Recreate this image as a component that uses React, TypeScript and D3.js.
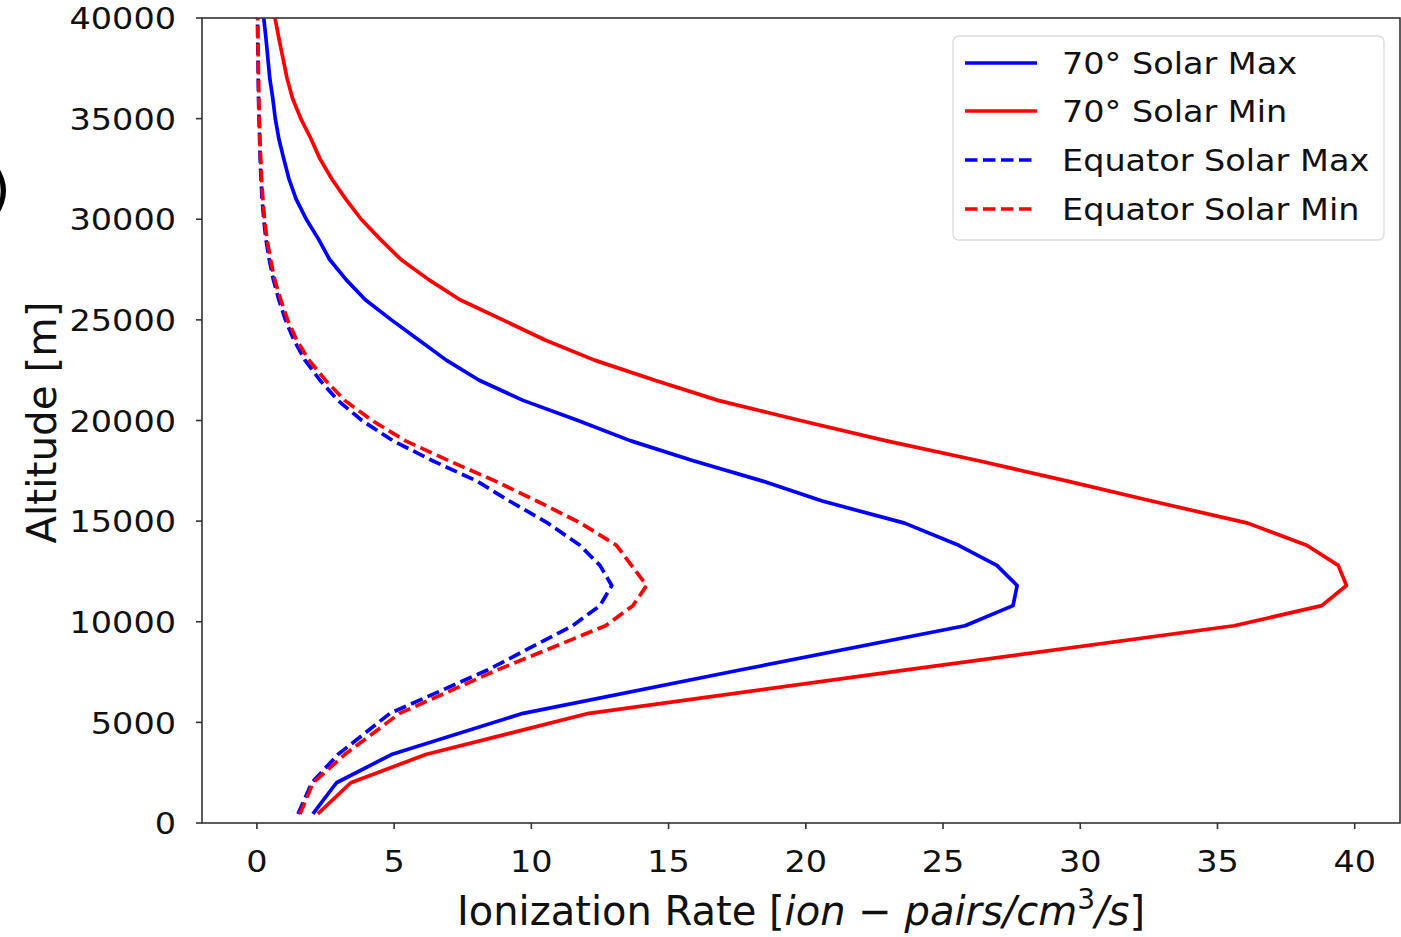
import React from "react";
import * as d3 from "d3";

const altitudes = [450, 2000, 3400, 5450, 7600, 9800, 10800, 11800, 12800, 13800, 14900, 16000, 17000, 18000, 19000, 20000, 21000, 22000, 23000, 24000, 25000, 26000, 27000, 28000, 29000, 30000, 31000, 32000, 33000, 34000, 35000, 36000, 37000, 38000, 39000, 40000];

const polarSolarMax = [2.04, 2.9, 4.9, 9.7, 17.6, 25.8, 27.55, 27.7, 26.96, 25.57, 23.6, 20.6, 18.4, 15.9, 13.6, 11.7, 9.7, 8.1, 6.9, 5.9, 4.9, 3.95, 3.25, 2.65, 2.25, 1.8, 1.43, 1.17, 0.98, 0.8, 0.67, 0.58, 0.47, 0.4, 0.33, 0.25];
const polarSolarMin = [2.22, 3.42, 6.15, 12.1, 23.6, 35.6, 38.8, 39.7, 39.4, 38.25, 36.1, 32.6, 29.5, 26.3, 22.9, 19.8, 16.8, 14.5, 12.3, 10.5, 8.96, 7.4, 6.26, 5.25, 4.5, 3.8, 3.24, 2.73, 2.3, 1.97, 1.6, 1.3, 1.1, 0.95, 0.8, 0.66];
const equatorSolarMax = [1.5, 2.0, 2.95, 4.85, 8.4, 11.5, 12.5, 12.93, 12.5, 11.77, 10.6, 9.2, 8.0, 6.4, 4.95, 3.83, 2.95, 2.3, 1.75, 1.35, 1.04, 0.8, 0.6, 0.45, 0.33, 0.25, 0.19, 0.15, 0.12, 0.1, 0.08, 0.06, 0.05, 0.04, 0.03, 0.02];
const equatorSolarMin = [1.57, 2.05, 3.2, 5.2, 8.75, 12.7, 13.7, 14.2, 13.65, 13.1, 11.8, 10.2, 8.67, 7.0, 5.4, 4.2, 3.2, 2.5, 1.9, 1.45, 1.12, 0.87, 0.65, 0.5, 0.37, 0.28, 0.22, 0.17, 0.14, 0.11, 0.09, 0.07, 0.06, 0.05, 0.04, 0.03];

const xTicks = [0, 5, 10, 15, 20, 25, 30, 35, 40];
const yTicks = [0, 5000, 10000, 15000, 20000, 25000, 30000, 35000, 40000];

const seriesNames = ["70° Solar Max", "70° Solar Min", "Equator Solar Max", "Equator Solar Min"];
const seriesColors = ["#0000ff", "#ff0000", "#0000ff", "#ff0000"];
const seriesDashed = [false, false, true, true];
const seriesValues = [polarSolarMax, polarSolarMin, equatorSolarMax, equatorSolarMin];

const W = 1401;
const H = 937;
const M = { left: 202, right: 1400, top: 18, bottom: 823 };
const FONT = "'DejaVu Sans', sans-serif";

export default function App() {
  const x = d3.scaleLinear().domain([-2.0, 41.65]).range([M.left, M.right]);
  const y = d3.scaleLinear().domain([0, 40000]).range([M.bottom, M.top]);
  const line = d3
    .line<[number, number]>()
    .x((d) => x(d[0]))
    .y((d) => y(d[1]));

  const lw = 3.7;
  const dash = "12.5,5.5";
  const tickFont = 31;
  const sx = 1.08;
  const labelFont = 40;
  const legendRows = [63, 111, 160, 209];

  return (
    <svg width={W} height={H} style={{ position: "absolute", left: 0, top: 0, background: "#fff" }} fontFamily={FONT}>
      <rect x={0} y={0} width={W} height={H} fill="#fff" />
      <text x={-11} y={208} fontSize={56} fill="#000">)</text>
      <defs>
        <clipPath id="plotclip">
          <rect x={M.left} y={M.top} width={M.right - M.left} height={M.bottom - M.top} />
        </clipPath>
      </defs>
      <g clipPath="url(#plotclip)">
        {seriesValues.map((vals, i) => (
          <path
            key={i}
            d={line(vals.map((v, j) => [v, altitudes[j]] as [number, number])) || ""}
            fill="none"
            stroke={seriesColors[i]}
            strokeWidth={lw}
            strokeDasharray={seriesDashed[i] ? dash : undefined}
            strokeLinejoin="round"
          />
        ))}
      </g>
      <rect x={M.left} y={M.top} width={M.right - M.left} height={M.bottom - M.top} fill="none" stroke="#333" strokeWidth={1.6} />
      {xTicks.map((t) => (
        <g key={"x" + t}>
          <line x1={x(t)} x2={x(t)} y1={M.bottom} y2={M.bottom + 6} stroke="#333" strokeWidth={1.6} />
          <text transform={`translate(${x(t)},872) scale(${sx},1)`} fontSize={tickFont} textAnchor="middle" fill="#111">{t}</text>
        </g>
      ))}
      {yTicks.map((t) => (
        <g key={"y" + t}>
          <line x1={M.left - 6} x2={M.left} y1={y(t)} y2={y(t)} stroke="#333" strokeWidth={1.6} />
          <text transform={`translate(176,${y(t)}) scale(${sx},1)`} dy="0.36em" fontSize={tickFont} textAnchor="end" fill="#111">{t}</text>
        </g>
      ))}
      <text x={801} y={925} fontSize={labelFont} textAnchor="middle" fill="#111">
        Ionization Rate [<tspan fontStyle="italic">ion</tspan> − <tspan fontStyle="italic">pairs/cm</tspan>
        <tspan fontSize={labelFont * 0.7} dy={-16}>3</tspan>
        <tspan fontStyle="italic" dy={16}>/s</tspan>]
      </text>
      <text transform={`translate(56,${(M.top + M.bottom) / 2 + 2}) rotate(-90)`} fontSize={40.5} textAnchor="middle" fill="#111">
        Altitude [m]
      </text>
      <rect x={953} y={36} width={431} height={204} rx={6} ry={6} fill="#fff" fillOpacity={0.8} stroke="#dcdcdc" strokeWidth={1.3} />
      {seriesNames.map((name, i) => (
        <g key={name}>
          <line x1={965} x2={1037} y1={legendRows[i]} y2={legendRows[i]} stroke={seriesColors[i]} strokeWidth={lw} strokeDasharray={seriesDashed[i] ? dash : undefined} />
          <text transform={`translate(1062,${legendRows[i]}) scale(${sx},1)`} dy="0.36em" fontSize={tickFont} fill="#111">{name}</text>
        </g>
      ))}
    </svg>
  );
}
